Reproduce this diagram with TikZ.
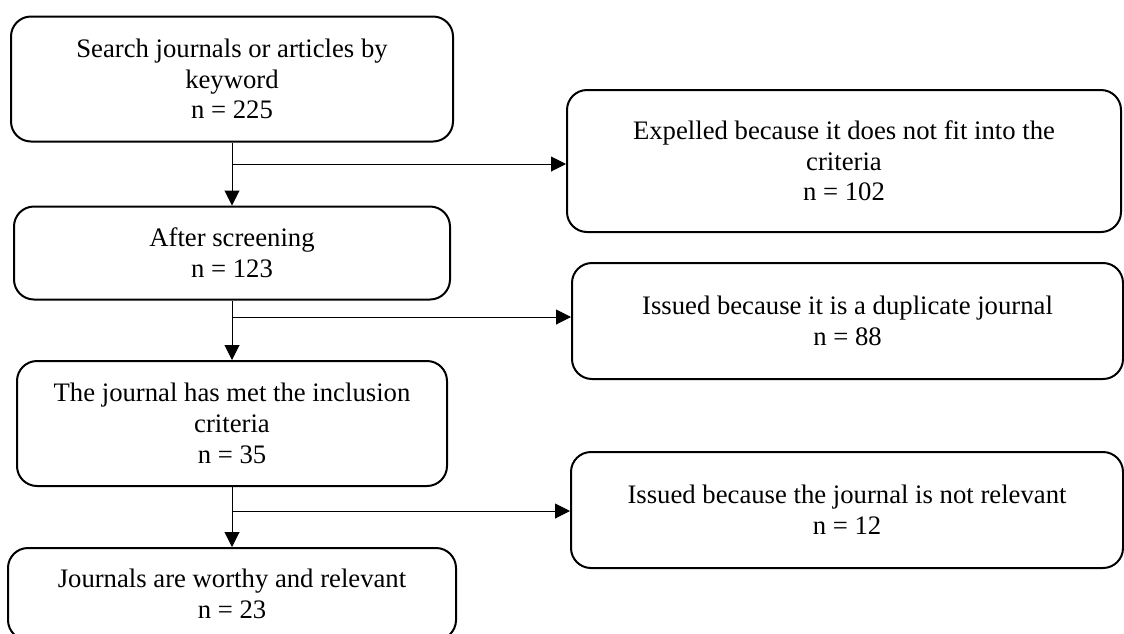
\documentclass[tikz,border=0pt]{standalone}
\usepackage{fontspec}
\setmainfont{Liberation Serif}
\usetikzlibrary{arrows.meta}
\begin{document}
\begin{tikzpicture}[x=0.5pt,y=-0.5pt,
    box/.style={draw,line width=1pt,rounded corners=10pt,align=center,inner sep=0pt,
      font=\fontsize{13.35pt}{15.35pt}\selectfont},
    flow/.style={line width=0.5pt,-{Triangle[length=7.5pt,width=7.5pt]}}]
  \useasboundingbox (0,0) rectangle (1124,633);
  \node[box,minimum width=221pt,minimum height=62.5pt] (search) at (232,79)
    {Search journals or articles by\\keyword\\n = 225};
  \node[box,minimum width=218pt,minimum height=46.5pt] (screen) at (232,253)
    {After screening\\n = 123};
  \node[box,minimum width=215pt,minimum height=62.5pt] (incl) at (232,423.5)
    {The journal has met the inclusion\\criteria\\n = 35};
  \node[box,minimum width=224pt,minimum height=46pt] (final) at (232,594)
    {Journals are worthy and relevant\\n = 23};
  \node[box,minimum width=277pt,minimum height=71pt] (expel) at (844,161)
    {Expelled because it does not fit into the\\criteria\\n = 102};
  \node[box,minimum width=275.5pt,minimum height=58pt] (dup) at (847.5,321)
    {Issued because it is a duplicate journal\\n = 88};
  \node[box,minimum width=276pt,minimum height=58pt] (irrel) at (847,510)
    {Issued because the journal is not relevant\\n = 12};
  \draw[flow] (search.south) -- (screen.north);
  \draw[flow] (screen.south) -- (incl.north);
  \draw[flow] (incl.south) -- (final.north);
  \coordinate (b1) at (232,164);
  \coordinate (b2) at (232,317);
  \coordinate (b3) at (232,511);
  \draw[flow] (b1) -- (b1 -| expel.west);
  \draw[flow] (b2) -- (b2 -| dup.west);
  \draw[flow] (b3) -- (b3 -| irrel.west);
\end{tikzpicture}
\end{document}
